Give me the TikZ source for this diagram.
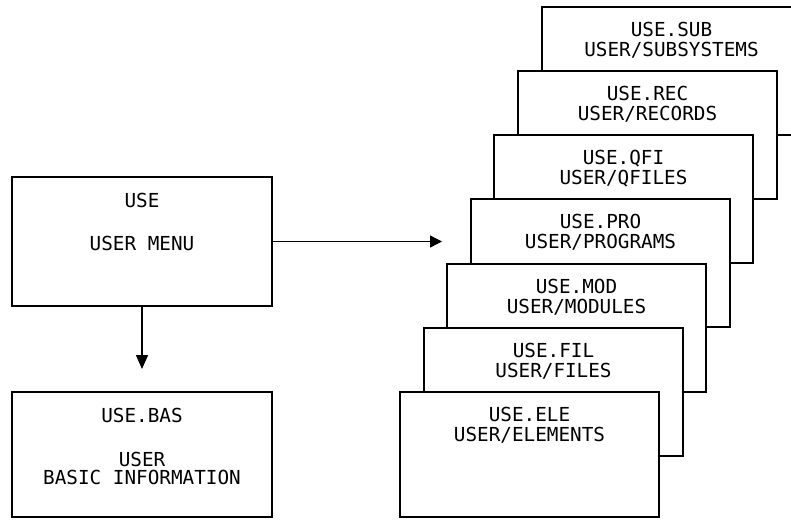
\documentclass[tikz,border=0pt]{standalone}
\usepackage{fontspec}
\setmonofont{DejaVu Sans Mono}
\usetikzlibrary{arrows.meta}
\begin{document}
\begin{tikzpicture}[x=1pt,y=-1pt,
  box/.style={draw, line width=1.4pt, fill=white, rectangle, inner sep=0pt, outer sep=0pt,
    anchor=north west, minimum width=259pt, minimum height=128pt},
  txt/.style={font=\fontsize{19.3}{20}\selectfont\ttfamily, anchor=base, inner sep=0pt},
  arr/.style={line width=1.4pt, -{Triangle[length=12pt,width=12pt]}}]
\clip (0,0) rectangle (791,520);
% left column
\node[box, minimum width=260pt, minimum height=129pt] (use) at (12,177) {};
\node[txt] (useA) at ([yshift=-30pt]use.north) {USE};
\node[txt] (useB) at ([yshift=-73pt]use.north) {USER MENU};
\node[box, minimum width=260pt, minimum height=125pt] (bas) at (12,392) {};
\node[txt] (basA) at ([yshift=-30pt]bas.north) {USE.BAS};
\node[txt] (basB) at ([yshift=-74pt]bas.north) {USER};
\node[txt] (basC) at ([yshift=-92pt]bas.north) {BASIC INFORMATION};
% stacked boxes, back to front
\node[box] (sub) at (542,7) {};
\node[txt] (subA) at ([yshift=-29pt]sub.north) {USE.SUB};
\node[txt] (subB) at ([yshift=-49pt]sub.north) {USER/SUBSYSTEMS};
\node[box] (rec) at (518,71) {};
\node[txt] (recA) at ([yshift=-29pt]rec.north) {USE.REC};
\node[txt] (recB) at ([yshift=-49pt]rec.north) {USER/RECORDS};
\node[box] (qfi) at (494,135) {};
\node[txt] (qfiA) at ([yshift=-29pt]qfi.north) {USE.QFI};
\node[txt] (qfiB) at ([yshift=-49pt]qfi.north) {USER/QFILES};
\node[box] (pro) at (471,199) {};
\node[txt] (proA) at ([yshift=-29pt]pro.north) {USE.PRO};
\node[txt] (proB) at ([yshift=-49pt]pro.north) {USER/PROGRAMS};
\node[box] (mod) at (447,264) {};
\node[txt] (modA) at ([yshift=-29pt]mod.north) {USE.MOD};
\node[txt] (modB) at ([yshift=-49pt]mod.north) {USER/MODULES};
\node[box] (fil) at (424,328) {};
\node[txt] (filA) at ([yshift=-29pt]fil.north) {USE.FIL};
\node[txt] (filB) at ([yshift=-49pt]fil.north) {USER/FILES};
\node[box, minimum height=125pt] (ele) at (400,392) {};
\node[txt] (eleA) at ([yshift=-29pt]ele.north) {USE.ELE};
\node[txt] (eleB) at ([yshift=-49pt]ele.north) {USER/ELEMENTS};
% connectors
\coordinate (rtip) at (442,241.5);
\coordinate (dtip) at (142,378);
\draw[arr] (use.east) -- (use.east -| rtip);
\draw[line width=1.4pt, -{Triangle[length=14pt,width=12pt,sep=9pt]}] (use.south) -- (use.south |- dtip);
\end{tikzpicture}
\end{document}
